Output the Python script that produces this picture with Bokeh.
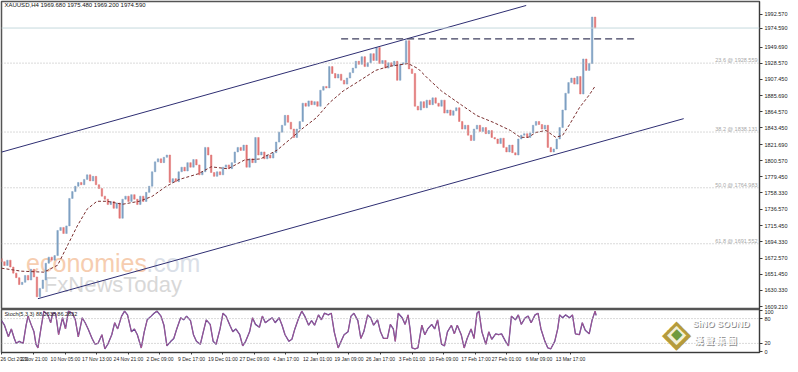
from bokeh.plotting import figure
from bokeh.layouts import column
from bokeh.models import Range1d, FixedTicker, PrintfTickFormatter, Label, Span
from bokeh.embed import file_html
from bokeh.resources import INLINE
from bokeh.core.properties import value

# ---------------- data ----------------
# aggregated candles (every 3rd H4 bar), closes in USD
first_open = 1672
closes = [1668, 1663, 1670, 1661, 1653, 1647, 1638, 1641, 1650, 1644,
          1658, 1648, 1622, 1633, 1644, 1666, 1674, 1670, 1676, 1709,
          1713, 1705, 1715, 1751, 1760, 1767, 1772, 1769, 1776, 1782,
          1774, 1780, 1769, 1764, 1754, 1750, 1743, 1747, 1738, 1745,
          1725, 1750, 1754, 1747, 1756, 1750, 1743, 1754, 1747, 1759,
          1767, 1786, 1799, 1803, 1798, 1805, 1808, 1772, 1777, 1773,
          1786, 1792, 1787, 1798, 1792, 1802, 1795, 1782, 1786, 1818,
          1808, 1785, 1780, 1786, 1782, 1792, 1795, 1790, 1798, 1812,
          1818, 1814, 1821, 1792, 1803, 1798, 1831, 1808, 1812, 1803,
          1808, 1804, 1811, 1825, 1838, 1847, 1860, 1851, 1842, 1831,
          1842, 1852, 1876, 1872, 1879, 1874, 1878, 1872, 1893, 1898,
          1896, 1924, 1915, 1909, 1914, 1906, 1901, 1909, 1916, 1922,
          1931, 1927, 1937, 1924, 1929, 1941, 1932, 1949, 1928, 1932,
          1922, 1929, 1925, 1931, 1906, 1927, 1929, 1958, 1921, 1915,
          1872, 1867, 1878, 1870, 1880, 1874, 1883, 1876, 1872, 1880,
          1863, 1867, 1860, 1866, 1870, 1852, 1842, 1847, 1834, 1827,
          1842, 1847, 1839, 1844, 1836, 1840, 1831, 1829, 1823, 1830,
          1818, 1812, 1821, 1811, 1808, 1829, 1834, 1836, 1831, 1837,
          1847, 1852, 1848, 1842, 1847, 1818, 1812, 1816, 1829, 1844,
          1867, 1889, 1903, 1909, 1901, 1911, 1888, 1934, 1919, 1928,
          1989, 1974.59]
bars_per_candle = 3

# moving average (H4 bar index, price)
ma_x = [0, 20, 43, 57, 67, 77, 87, 97, 107, 123, 140, 153, 167, 180, 200,
        213, 230, 247, 263, 280, 293, 307, 320, 333, 347, 363, 380, 393,
        413, 423, 433, 447, 467, 483, 500, 517, 527, 535, 543, 553, 563,
        570, 577, 587, 597, 603]
ma_y = [1659.5, 1655.6, 1654.3, 1663.4, 1689.2, 1715.0, 1737.0, 1747.3,
        1747.3, 1743.4, 1747.3, 1753.7, 1766.6, 1775.7, 1783.4, 1792.5,
        1789.9, 1801.5, 1802.8, 1814.4, 1828.6, 1844.1, 1857.0, 1876.4,
        1891.9, 1904.8, 1919.0, 1924.1, 1928.0, 1921.5, 1908.6, 1891.9,
        1873.8, 1859.6, 1850.6, 1840.2, 1831.2, 1831.2, 1837.6, 1840.2,
        1831.2, 1833.8, 1847.9, 1869.9, 1886.7, 1898.3]

# stochastic oscillator (H4 bar index, value)
stoch_x = [0, 3, 7, 10, 13, 15, 18, 22, 25, 27, 30, 33, 35, 37, 40, 43, 47,
           50, 52, 55, 58, 62, 65, 68, 72, 75, 78, 82, 85, 88, 92, 95, 98,
           102, 105, 108, 112, 115, 118, 122, 125, 128, 132, 135, 138, 142,
           145, 148, 152, 155, 158, 162, 165, 168, 172, 175, 178, 182, 185,
           188, 192, 195, 198, 202, 205, 208, 212, 215, 218, 222, 225, 228,
           232, 235, 238, 242, 245, 248, 252, 255, 258, 262, 265, 268, 272,
           275, 278, 282, 285, 288, 292, 295, 298, 302, 305, 308, 312, 315,
           318, 322, 325, 328, 332, 335, 338, 342, 345, 348, 352, 355, 358,
           362, 365, 368, 372, 375, 378, 382, 385, 388, 392, 395, 398, 400,
           403, 407, 410, 413, 415, 417, 420, 423, 427, 430, 433, 437, 440,
           443, 447, 450, 453, 457, 460, 463, 467, 470, 473, 477, 480, 483,
           485, 488, 492, 495, 498, 502, 505, 508, 512, 515, 518, 522, 525,
           528, 532, 535, 538, 542, 545, 548, 552, 555, 558, 562, 565, 567,
           570, 573, 577, 580, 583, 587, 590, 593, 597, 600, 603, 604]
stoch_main = [75, 64, 36, 55, 32, 20, 25, 20, 64, 86, 66, 48, 18, 9, 55, 98,
              89, 70, 93, 93, 41, 82, 55, 98, 93, 77, 36, 82, 70, 55, 32, 18,
              20, 41, 7, 18, 41, 70, 55, 86, 98, 89, 48, 55, 41, 9, 48, 77,
              86, 93, 98, 86, 64, 14, 25, 32, 55, 82, 77, 86, 75, 41, 25, 18,
              48, 77, 66, 25, 18, 55, 93, 86, 64, 48, 55, 41, 14, 25, 48, 82,
              66, 59, 86, 70, 77, 82, 70, 82, 64, 41, 25, 30, 55, 82, 98, 86,
              64, 75, 64, 89, 77, 93, 89, 93, 48, 9, 25, 41, 48, 86, 93, 75,
              32, 48, 89, 82, 64, 77, 48, 32, 32, 66, 55, 25, 93, 82, 66, 89,
              55, 9, 7, 9, 64, 41, 55, 66, 55, 77, 18, 14, 48, 64, 43, 64, 41,
              9, 32, 55, 32, 93, 98, 48, 18, 48, 30, 43, 41, 43, 25, 14, 86,
              77, 89, 66, 82, 86, 70, 89, 93, 55, 25, 9, 7, 25, 55, 89, 82, 89,
              82, 89, 43, 41, 70, 52, 43, 77, 98, 88]
stoch_levels = [20, 80]

# trend lines drawn on the chart (H4 bar index, price)
upper_x, upper_y = [0, 533], [1811.8, 2004.2]
lower_x, lower_y = [37, 693], [1619.5, 1855.7]
resist_x, resist_y = [345, 643], [1960.3, 1960.3]
last_price = 1974.59

fib_pct = ["23.6", "38.2", "50.0", "61.8"]
fib_val = [1928.559, 1838.131, 1764.983, 1691.552]

price_ticks = [1609.21, 1630.33, 1651.45, 1672.57, 1694.33, 1715.45,
               1736.57, 1758.33, 1779.45, 1800.57, 1821.69, 1843.45,
               1864.57, 1885.69, 1907.45, 1928.57, 1949.69, 1974.59,
               1992.57]
date_ticks = [0, 33, 65, 97, 129, 161, 193, 225, 257, 289, 321, 353, 385,
              417, 449, 482, 513, 546, 578]
date_labels = ["26 Oct 2022", "2 Nov 21:00", "10 Nov 05:00", "17 Nov 13:00",
               "24 Nov 21:00", "2 Dec 09:00", "9 Dec 17:00", "19 Dec 01:00",
               "27 Dec 09:00", "4 Jan 17:00", "12 Jan 01:00", "19 Jan 09:00",
               "26 Jan 17:00", "3 Feb 01:00", "10 Feb 09:00", "17 Feb 17:00",
               "27 Feb 01:00", "6 Mar 09:00", "13 Mar 17:00"]

title_text = "XAUUSD,H4  1969.680 1975.480 1969.200 1974.590"
stoch_text = "Stoch(5,3,3) 88.2538 86.2832"

# ---------------- styling ----------------
FONT = "Liberation Sans"
UP, DOWN = "#7fa0c3", "#e07474"
AX = "#3a3a3a"

xr = Range1d(0, 770)

p = figure(width=790, height=309, x_range=xr, y_range=Range1d(1605.3, 2009.4),
           output_backend="svg", toolbar_location=None,
           x_axis_location=None, y_axis_location="right",
           min_border_left=1, min_border_right=30, min_border_top=1,
           min_border_bottom=0)
p.xgrid.visible = False
p.ygrid.visible = False
p.outline_line_color = "#555555"
p.outline_line_width = 1.5
p.background_fill_color = "white"
p.border_fill_color = "white"

ya = p.yaxis[0]
ya.ticker = FixedTicker(ticks=price_ticks)
ya.formatter = PrintfTickFormatter(format="%.3f")
ya.axis_line_color = AX
ya.major_tick_line_color = AX
ya.major_tick_out = 3
ya.major_tick_in = 0
ya.major_label_standoff = 2
ya.major_label_text_font = FONT
ya.major_label_text_font_size = "5.5px"
ya.major_label_text_color = "#222222"

# watermarks (under everything)
p.text(x=[25], y=[1666], text=["economies"], text_font=value(FONT),
       text_font_size="25px", text_color="#f6cdb0", text_baseline="alphabetic")
p.text(x=[147], y=[1666], text=[".com"], text_font=value(FONT),
       text_font_size="25px", text_color="#dadfe8", text_baseline="alphabetic")
p.text(x=[43], y=[1637.6], text=["FxNewsToday"], text_font=value(FONT),
       text_font_size="22px", text_color="#d8d8d8", text_baseline="alphabetic")

# reference lines
p.add_layout(Span(location=last_price, dimension="width",
                  line_color="#c5d9dd", line_width=1))
for pct, v in zip(fib_pct, fib_val):
    p.add_layout(Span(location=v, dimension="width", line_color="#b4b4b4",
                      line_width=1, line_dash="1 2"))
    p.add_layout(Label(x=xr.end - 2, y=v, text=f"{pct} @ {v:.3f}",
                       text_align="right", text_baseline="bottom",
                       text_color="#a8a8a8", text_font=FONT,
                       text_font_size="5.5px"))

# candles
bar_x = list(range(0, bars_per_candle * len(closes), bars_per_candle))
opens = [first_open] + closes[:-1]
tops = [max(o, c) for o, c in zip(opens, closes)]
bots = [min(o, c) for o, c in zip(opens, closes)]
cols = [UP if c >= o else DOWN for o, c in zip(opens, closes)]
p.vbar(x=bar_x, top=tops, bottom=bots, width=1.5, fill_color=cols,
       line_color=cols, line_width=0.5)

# moving average
p.line(ma_x, ma_y, line_color="#7a2e2e", line_width=1, line_dash="3 2")

# channel and resistance
p.line(upper_x, upper_y, line_color="#2e2e72", line_width=1)
p.line(lower_x, lower_y, line_color="#2e2e72", line_width=1)
p.line(resist_x, resist_y, line_color="#3e3e5e", line_width=1.2,
       line_dash="7 4")

p.add_layout(Label(x=3, y=2008.5, text=title_text, text_baseline="top",
                   text_font=FONT, text_font_size="6px", text_color="#111111"))

# ---------------- stochastic panel ----------------
q = figure(width=790, height=55, x_range=xr, y_range=Range1d(-2, 102),
           output_backend="svg", toolbar_location=None,
           y_axis_location="right",
           min_border_left=1, min_border_right=30, min_border_top=0,
           min_border_bottom=12)
q.xgrid.visible = False
q.ygrid.visible = False
q.outline_line_color = "#555555"
q.outline_line_width = 1.5
q.background_fill_color = "white"
q.border_fill_color = "white"

qy = q.yaxis[0]
qy.ticker = FixedTicker(ticks=[0, 20, 80, 100])
qy.axis_line_color = AX
qy.major_tick_line_color = AX
qy.major_tick_out = 3
qy.major_tick_in = 0
qy.major_label_standoff = 2
qy.major_label_text_font = FONT
qy.major_label_text_font_size = "5.5px"
qy.major_label_text_color = "#222222"

qx = q.xaxis[0]
qx.ticker = FixedTicker(ticks=date_ticks)
qx.major_label_overrides = {t: l for t, l in zip(date_ticks, date_labels)}
qx.major_label_text_align = "left"
qx.axis_line_color = AX
qx.major_tick_line_color = AX
qx.major_tick_out = 2
qx.major_tick_in = 0
qx.major_label_standoff = 1
qx.major_label_text_font = FONT
qx.major_label_text_font_size = "5px"
qx.major_label_text_color = "#222222"

for lv in stoch_levels:
    q.add_layout(Span(location=lv, dimension="width", line_color="#b4b4b4",
                      line_width=1, line_dash="1 2"))

q.line(stoch_x, stoch_main, line_color="#3c3c9a", line_width=1.3)
q.line(stoch_x, stoch_main, line_color="#d8628a", line_width=0.8,
       line_alpha=0.85)

q.add_layout(Label(x=3, y=99, text=stoch_text, text_baseline="top",
                   text_font=FONT, text_font_size="5.5px",
                   text_color="#222222"))

# SINO SOUND logo (kept inside the panel)
for fs, col in [("38px", "#b59b3c"), ("25px", "#f3f0d8"), ("15px", "#6f9a3e")]:
    q.add_layout(Label(x=686, y=45, text="\u25c6", text_align="center",
                       text_baseline="middle", text_font_size=fs,
                       text_color=col))
for dx, dy, col in [(1, -1, "#8c8c8c"), (0, 0, "white")]:
    q.add_layout(Label(x=702, y=68, x_offset=dx, y_offset=dy,
                       text="SiNO SOUND", text_baseline="middle",
                       text_font=FONT, text_font_style="bold",
                       text_font_size="9px", text_color=col))
    q.add_layout(Label(x=704, y=26, x_offset=dx, y_offset=dy,
                       text="\u6f22 \u8072 \u96c6 \u5718", text_baseline="middle",
                       text_font="Noto Sans CJK TC", text_font_style="bold",
                       text_font_size="9px", text_color=col))

layout = column(p, q)
open("out.html", "w").write(file_html(layout, INLINE))
